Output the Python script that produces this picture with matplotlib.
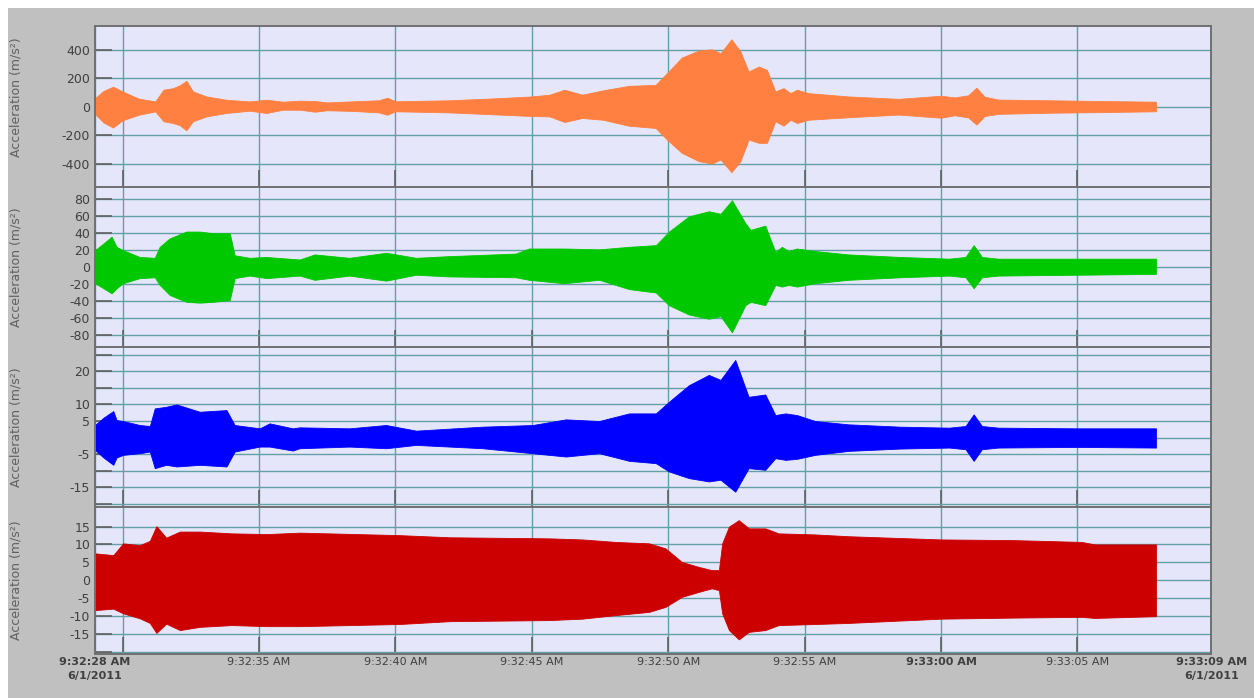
import matplotlib.pyplot as plt
from matplotlib.patches import Rectangle

# seconds after 9:32:00 AM, 6/1/2011
t_start, t_end = 28.99, 69.91

# envelope of each accelerometer trace (upper / lower)
t1 = [28.99, 29.3, 29.65, 30.0, 30.6, 31.2, 31.5, 31.85, 32.1, 32.34, 32.58, 33.07, 33.8,
      34.66, 35.27, 35.88, 36.49, 37.04, 37.5, 38.5, 39.4, 39.7, 40.0, 42.0, 43.8, 45.0,
      45.65, 46.2, 46.85, 47.6, 48.56, 49.54, 49.96, 50.5, 51.12, 51.6, 51.92, 52.32, 52.65,
      52.95, 53.32, 53.62, 53.93, 54.23, 54.48, 54.72, 55.15, 56.6, 58.45, 60.0, 60.5, 61.0,
      61.3, 61.6, 62.1, 64.0, 65.8, 67.88]
hi1 = [60, 110, 140, 107, 56, 37, 119, 130, 150, 181, 107, 72, 49, 37, 49, 35, 42, 40, 30,
       38, 45, 63, 38, 45, 60, 72, 84, 119, 84, 114, 146, 153, 235, 344, 393, 402, 374, 472,
       386, 246, 281, 258, 107, 130, 95, 119, 95, 72, 55, 77, 65, 80, 133, 70, 50, 45, 40, 35]
lo1 = [-50, -110, -146, -95, -56, -33, -102, -114, -130, -165, -102, -68, -44, -28, -44, -21,
       -21, -35, -25, -30, -40, -56, -32, -40, -55, -65, -68, -107, -79, -91, -133, -149, -230,
       -323, -381, -398, -370, -458, -381, -230, -253, -253, -102, -133, -91, -114, -91, -74,
       -55, -77, -60, -75, -125, -65, -50, -42, -38, -32]

t2 = [28.99, 29.3, 29.6, 29.78, 30.02, 30.63, 31.18, 31.36, 31.73, 32.34, 32.83, 33.32, 33.93,
      34.11, 34.66, 35.27, 36.49, 37.04, 38.32, 39.66, 40.76, 41.98, 44.41, 44.9, 46.18, 47.47,
      48.57, 49.55, 50.03, 50.76, 51.49, 51.92, 52.34, 52.83, 53.02, 53.56, 53.93, 54.17, 54.41,
      54.72, 55.39, 56.61, 58.5, 60.3, 60.9, 61.2, 61.5, 62.1, 65.0, 67.88]
hi2 = [20, 28, 36, 24, 20, 12, 11, 24, 34, 42, 42, 40, 40, 14, 11, 12, 9, 15, 11, 17, 11, 13,
       16, 22, 22, 21, 24, 26, 42, 60, 66, 63, 79, 52, 44, 49, 18, 24, 19, 22, 19, 15, 12, 10,
       12, 26, 12, 10, 10, 10]
lo2 = [-19, -25, -31, -25, -19, -13, -12, -21, -33, -41, -42, -41, -39, -13, -10, -13, -10,
       -15, -10, -16, -9, -11, -12, -15, -19, -15, -26, -30, -45, -56, -61, -58, -77, -45, -41,
       -45, -21, -23, -21, -23, -19, -15, -12, -10, -12, -25, -12, -10, -9, -8]

t3 = [28.99, 29.3, 29.66, 29.78, 30.02, 30.63, 31.0, 31.18, 31.6, 31.98, 32.83, 33.81, 34.11,
      35.03, 35.39, 36.24, 36.49, 38.32, 39.66, 40.76, 43.2, 45.03, 46.25, 47.47, 48.57, 49.55,
      50.03, 50.76, 51.49, 51.92, 52.46, 52.95, 53.56, 53.93, 54.3, 54.72, 55.39, 56.61, 58.5,
      60.3, 60.9, 61.2, 61.5, 62.1, 65.0, 67.88]
hi3 = [3.8, 6, 8, 5.3, 5, 3.8, 3.5, 8.8, 9.3, 10, 7.8, 8.3, 3.8, 2.8, 4.3, 2.8, 3.1, 2.8, 3.8,
       2.1, 3.3, 3.8, 5.5, 5.0, 7.3, 7.3, 10.8, 15.8, 18.9, 17.4, 23.4, 12.3, 13.0, 6.8, 7.3,
       6.8, 5.0, 4.0, 3.3, 3.0, 3.5, 7.0, 3.5, 3.0, 2.8, 2.8]
lo3 = [-3.7, -6, -8.2, -6, -5.2, -4.7, -4.2, -9.2, -8.2, -8.7, -8.2, -8.7, -4.2, -2.7, -2.7,
       -3.9, -3.2, -2.7, -3.2, -2.2, -3.2, -4.7, -5.7, -4.7, -7.0, -7.7, -10.2, -12.2, -13.2,
       -12.7, -16.3, -9.2, -9.7, -6.2, -6.7, -6.4, -5.2, -4.0, -3.3, -3.0, -3.5, -7.0, -3.5,
       -3.0, -2.8, -3.0]

t4 = [28.99, 29.66, 30.02, 30.63, 31.0, 31.24, 31.6, 32.1, 32.83, 34.0, 35.3, 36.5, 40.15,
      42.0, 45.64, 46.85, 48.07, 49.3, 49.9, 50.5, 51.12, 51.6, 51.86, 51.98, 52.23, 52.59,
      52.96, 53.56, 54.05, 55.39, 56.6, 60.0, 62.7, 65.15, 65.64, 67.88]
hi4 = [7.5, 7.0, 10.3, 9.8, 11, 15.1, 11.9, 13.6, 13.6, 13.1, 12.9, 13.3, 12.6, 12.0, 11.7,
       11.4, 10.7, 10.3, 8.9, 5.1, 3.7, 2.8, 2.8, 10.3, 15.0, 16.8, 14.5, 14.5, 13.1, 12.8,
       12.3, 11.4, 11.2, 10.7, 10.0, 10.0]
lo4 = [-8.4, -8.0, -9.3, -10.7, -12, -14.8, -12.2, -14.0, -13.1, -12.6, -12.9, -12.9, -12.3,
       -11.5, -11.2, -10.8, -9.8, -8.9, -7.5, -4.7, -3.3, -2.3, -2.8, -9.3, -14.0, -16.6,
       -14.5, -14.0, -12.6, -12.3, -12.0, -10.8, -10.5, -10.3, -10.6, -10.1]

# y axis ticks and labels per panel
yt1 = [-400, -200, 0, 200, 400]
yl1 = ["-400", "-200", "0", "200", "400"]
yt2 = [-80, -60, -40, -20, 0, 20, 40, 60, 80]
yl2 = ["-80", "-60", "-40", "-20", "0", "20", "40", "60", "80"]
yt3 = [-20, -15, -10, -5, 0, 5, 10, 15, 20, 25]
yl3 = ["", "-15", "", "-5", "", "5", "10", "", "20", ""]
yt4 = [-20, -15, -10, -5, 0, 5, 10, 15]
yl4 = ["", "-15", "-10", "-5", "0", "5", "10", "15"]

# time axis
x_ticks = [t_start, 30, 35, 40, 45, 50, 55, 60, 65, t_end]
x_labels = ["9:32:28 AM\n6/1/2011", "", "9:32:35 AM", "9:32:40 AM", "9:32:45 AM",
            "9:32:50 AM", "9:32:55 AM", "9:33:00 AM", "9:33:05 AM", "9:33:09 AM\n6/1/2011"]
x_bold = [True, False, False, False, False, False, False, True, False, True]

W, H = 1254, 698
fig = plt.figure(figsize=(W / 100, H / 100), dpi=100, facecolor="white")
fig.patches.append(Rectangle((8 / W, 0), 1, (H - 8) / H, transform=fig.transFigure,
                             facecolor="#c0c0c0", edgecolor="none", zorder=-10))

left, right = 95, 1211.3
# (top, bottom) pixel rows of each panel
rows = [(26, 186.7), (186.7, 346.7), (346.7, 507.3), (507.3, 654)]

panels = [
    (t1, hi1, lo1, "#ff8040", yt1, yl1, (-560, 565), 0.556),
    (t2, hi2, lo2, "#00c800", yt2, yl2, (-94, 95), 0.5),
    (t3, hi3, lo3, "#0000ff", yt3, yl3, (-21, 27.4), 0.5),
    (t4, hi4, lo4, "#cc0000", yt4, yl4, (-20.7, 20.4), 0.5),
]

for i, (t, hi, lo, color, yt, yl, ylim, lab_y) in enumerate(panels):
    top, bot = rows[i]
    ax = fig.add_axes([left / W, (H - bot) / H, (right - left) / W, (bot - top) / H])
    ax.set_facecolor("#e6e6fa")
    ax.fill_between(t, lo, hi, color=color, linewidth=0.6, edgecolor=color)
    ax.set_xlim(t_start, t_end)
    ax.set_ylim(*ylim)
    ax.set_yticks(yt)
    ax.set_yticklabels(yl)
    ax.set_xticks(x_ticks)
    ax.set_axisbelow(True)
    ax.grid(True, color="#62a0a6", linewidth=1.0)
    ax.tick_params(direction="in", length=12, width=1.2, color="#606060",
                   labelsize=9, labelcolor="#404040", pad=3.5)
    for s in ax.spines.values():
        s.set_color("#707070")
        s.set_linewidth(1.4)
    ax.set_ylabel("Acceleration (m/s²)", fontsize=9, color="#606060")
    ax.yaxis.set_label_coords(-0.0645, lab_y)
    if i < 3:
        ax.tick_params(labelbottom=False)
    else:
        ax.set_xticklabels(x_labels)
        ax.tick_params(axis="x", labelsize=8, pad=2)
        for lab, b in zip(ax.get_xticklabels(), x_bold):
            lab.set_linespacing(1.55)
            if b:
                lab.set_fontweight("bold")

fig.savefig("out.png", dpi=100, facecolor=fig.get_facecolor())
